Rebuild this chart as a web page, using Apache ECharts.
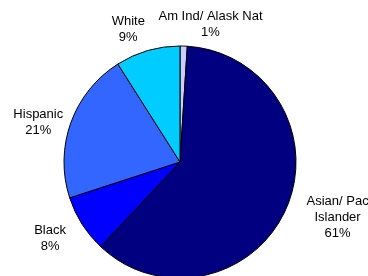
<!DOCTYPE html>
<html>
<head>
<meta charset="utf-8">
<script src="https://cdn.jsdelivr.net/npm/echarts@6/dist/echarts.min.js"></script>
<style>
  html, body { margin: 0; padding: 0; background: #fff; }
  #chart { width: 368px; height: 276px; }
</style>
</head>
<body>
<div id="chart"></div>
<script>
// slices, clockwise from 12 o'clock
var categories = ['Am Ind/ Alask Nat', 'Asian/ Pac\nIslander', 'Black', 'Hispanic', 'White'];
var shares = [1, 61, 8, 21, 9];
var sliceColors = ['#CCCCFF', '#000080', '#0000FF', '#3366FF', '#00CCFF'];

var cx = 180, cy = 162, R = 116;
// small hand offsets so the labels sit where the original placed them
var labelNudge = [[26, 6], [7, -10], [-5, -3], [4, 13], [-11, 8]];

// mid angle of each slice (radians, clockwise from top)
var total = shares.reduce(function (a, b) { return a + b; }, 0);
var midAngles = [];
var acc = 0;
shares.forEach(function (v) {
    midAngles.push((acc + v / 2) / total * Math.PI * 2);
    acc += v;
});

var chart = echarts.init(document.getElementById('chart'));
var option = {
    animation: false,
    series: [{
        type: 'pie',
        center: [cx, cy],
        radius: R,
        startAngle: 90,
        clockwise: true,
        data: categories.map(function (name, i) {
            return { name: name, value: shares[i], itemStyle: { color: sliceColors[i] } };
        }),
        itemStyle: { borderColor: '#000', borderWidth: 1 },
        label: {
            show: true,
            position: 'outside',
            alignTo: 'none',
            overflow: 'none',
            formatter: '{b}\n{c}%',
            fontFamily: 'Liberation Sans, Arial, sans-serif',
            fontSize: 13,
            lineHeight: 16,
            color: '#000',
            align: 'center'
        },
        labelLine: { show: false },
        labelLayout: function (p) {
            var a = midAngles[p.dataIndex];
            var w = p.labelRect.width, h = p.labelRect.height;
            var s = Math.sin(a), c = Math.cos(a);
            var d = R + 10 + w / 2 * Math.abs(s) + h / 2 * Math.abs(c);
            var n = labelNudge[p.dataIndex];
            return {
                x: cx + d * s + n[0],
                y: cy - d * c + n[1],
                align: 'center',
                verticalAlign: 'middle'
            };
        }
    }]
};
chart.setOption(option);
</script>
</body>
</html>
